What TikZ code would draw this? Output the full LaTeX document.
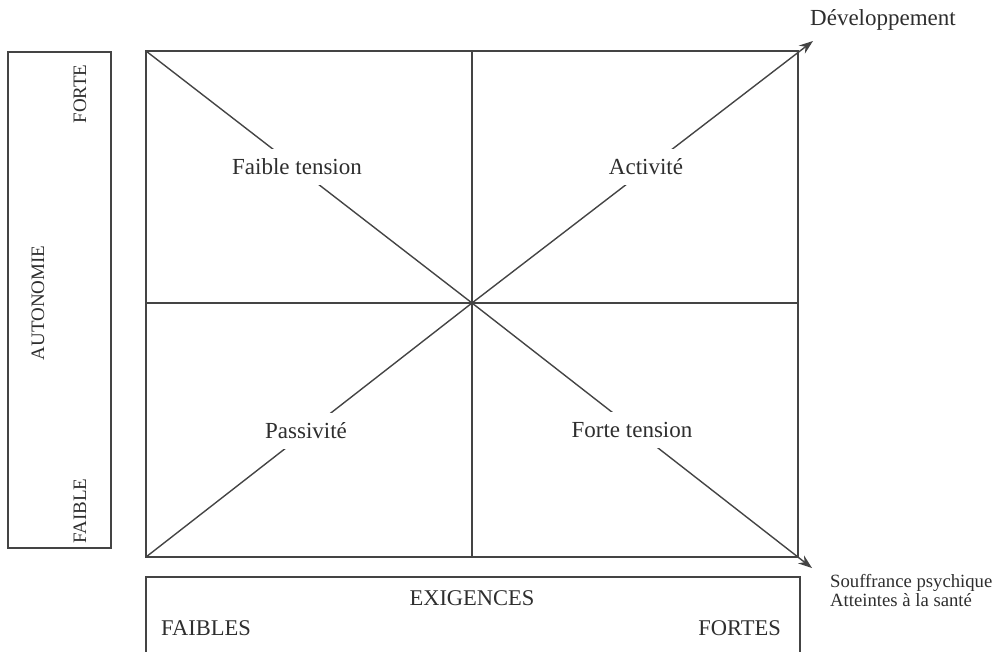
\documentclass[tikz,border=0pt]{standalone}
\usepackage{fontspec}
\setmainfont{Liberation Serif}
\usetikzlibrary{arrows.meta}
\definecolor{ink}{HTML}{444444}
\definecolor{txt}{HTML}{2E2E2E}
\begin{document}
\begin{tikzpicture}[x=1pt,y=-1pt,
  line/.style={draw=ink,line width=1.4pt},
  arr/.style={line,-{Stealth[length=14pt,width=10pt]}},
  lbl/.style={fill=white,text=txt,font=\fontsize{23}{27}\selectfont,inner xsep=2pt,inner ysep=10pt},
  side/.style={text=txt,font=\fontsize{19}{22}\selectfont,rotate=90,inner sep=0pt},
  bot/.style={text=txt,font=\fontsize{22.5}{26}\selectfont,inner sep=0pt},
  note/.style={text=txt,inner sep=0pt}]
\useasboundingbox (0,0) rectangle (998,651);
\clip (0,0) rectangle (998,651);
% main frame
\coordinate (tl) at (146,51);
\coordinate (tr) at (798,51);
\coordinate (bl) at (146,557);
\coordinate (br) at (798,557);
\coordinate (tm) at (472,51);
\coordinate (bm) at (472,557);
\coordinate (lm) at (146,303);
\coordinate (rm) at (798,303);
\coordinate (c) at (472,303);
\coordinate (dev) at (813,41);
\coordinate (souf) at (812,568);
\draw[line] (tl) rectangle (br);
\draw[line] (tm) -- (bm);
\draw[line] (lm) -- (rm);
\draw[line] (tl) -- (c);
\draw[line] (bl) -- (c);
\draw[arr] (c) -- (dev);
\draw[arr] (c) -- (souf);
% quadrant labels
\node[lbl] (ft) at (297,167) {Faible tension};
\node[lbl] (ac) at (646,167) {Activité};
\node[lbl] (pa) at (306,431) {Passivité};
\node[lbl] (fo) at (632,430) {Forte tension};
% outcomes
\node[note,anchor=west,font=\fontsize{23}{27}\selectfont] (devl) at (810,20) {Développement};
\node[note,anchor=north west,align=left,font=\fontsize{18.7}{19}\selectfont] (soufl) at (830,574) {Souffrance psychique\\Atteintes à la santé};
% left box
\draw[line] (8,52) rectangle (111,548);
\node[side] (forte) at (80,94) {FORTE};
\node[side] (auto) at (38,303) {AUTONOMIE};
\node[side] (faible) at (80,511) {FAIBLE};
% bottom box
\draw[line] (146,577) rectangle (800,665);
\node[bot] (exi) at (472,598) {EXIGENCES};
\node[bot,anchor=west] (fbs) at (161,628) {FAIBLES};
\node[bot,anchor=east] (fts) at (781,628) {FORTES};
\end{tikzpicture}
\end{document}
